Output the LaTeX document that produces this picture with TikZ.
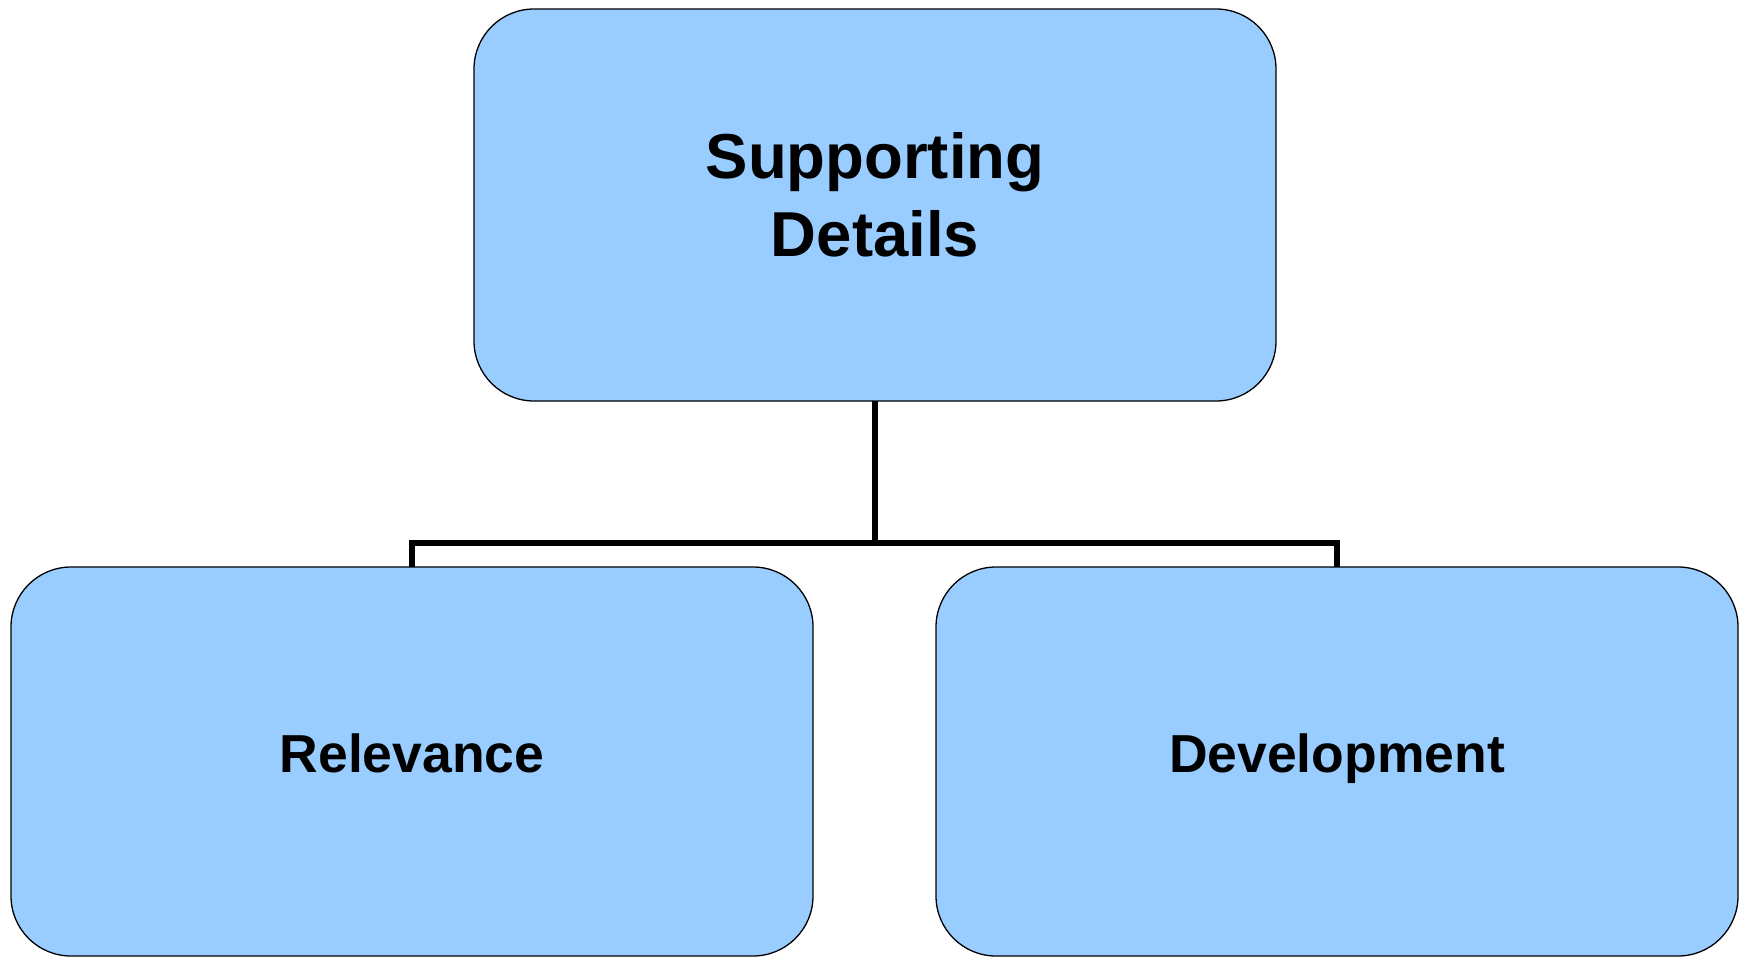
\documentclass[tikz,border=0pt]{standalone}
\usepackage{fontspec}
\setmainfont{Liberation Sans}
\usetikzlibrary{calc}
\definecolor{boxblue}{HTML}{99CCFF}
\tikzset{
  box/.style={draw=black, line width=1.3pt, fill=boxblue, rounded corners=60pt,
              minimum width=802pt, inner sep=0pt, outer sep=0pt},
  lbl/.style={font=\bfseries\fontsize{63.5}{78}\selectfont, align=center, text=black},
  sublbl/.style={font=\bfseries\fontsize{53.5}{64}\selectfont, text=black, anchor=base},
  link/.style={draw=black, line width=5.8pt}
}
\begin{document}
\begin{tikzpicture}[x=1pt,y=1pt]
  \useasboundingbox (0,0) rectangle (1747,-957);
  % boxes
  \node[box, minimum height=392pt] (top) at (875,-205) {};
  \node[box, minimum height=389pt] (left) at (412,-761.5) {};
  \node[box, minimum height=389pt] (right) at (1337,-761.5) {};
  % labels
  \node[lbl] (toplbl) at ($(top)+(0,10)$) {Supporting\\Details};
  \node[sublbl] (leftlbl) at (left |- 0,-772) {Relevance};
  \node[sublbl] (rightlbl) at (right |- 0,-772) {Development};
  % connectors
  \coordinate (bar) at ($(top.south)+(0,-142)$);
  \draw[link] (top.south) -- (bar) -| (left.north);
  \draw[link] (bar) -| (right.north);
\end{tikzpicture}
\end{document}
